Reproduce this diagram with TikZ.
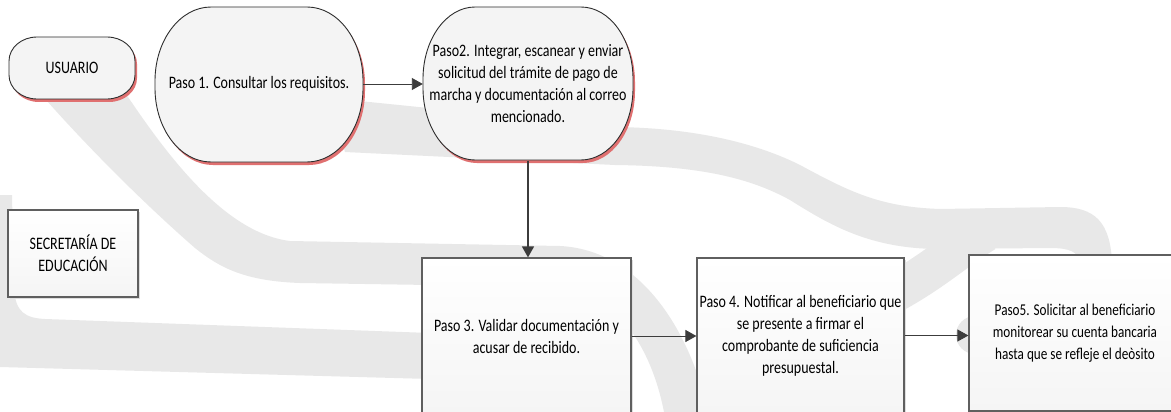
\documentclass[tikz,border=0pt]{standalone}
\usepackage{fontspec}
\setmainfont{Carlito}[FakeStretch=0.8]
\usetikzlibrary{arrows.meta,calc}
\definecolor{wm}{RGB}{232,232,232}
\definecolor{shapefill}{RGB}{244,244,244}
\definecolor{redshadow}{RGB}{224,112,112}
\definecolor{edgecol}{RGB}{45,45,45}
\definecolor{boxedge}{RGB}{95,95,95}
\definecolor{arrowgray}{RGB}{130,130,130}
\definecolor{arrowdark}{RGB}{60,60,60}
% #1 options, #2 x1, #3 y1, #4 x2, #5 y2, #6 rx, #7 ry
\newcommand\ellshape[7]{%
  \path[#1] (#2+#6,#3) -- (#4-#6,#3)
    .. controls (#4-0.4477*#6,#3) and (#4,#3+0.4477*#7) .. (#4,#3+#7)
    -- (#4,#5-#7)
    .. controls (#4,#5-0.4477*#7) and (#4-0.4477*#6,#5) .. (#4-#6,#5)
    -- (#2+#6,#5)
    .. controls (#2+0.4477*#6,#5) and (#2,#5-0.4477*#7) .. (#2,#5-#7)
    -- (#2,#3+#7)
    .. controls (#2,#3+0.4477*#7) and (#2+0.4477*#6,#3) .. (#2+#6,#3) -- cycle;}
\begin{document}
\begin{tikzpicture}[x=1pt,y=-1pt,
  txt/.style={font=\fontsize{17.5}{22}\selectfont, align=center, inner sep=0pt, text=black},
  stepbox/.style={draw=boxedge, line width=1.2, top color=white, bottom color={rgb,255:red,245;green,245;blue,245}, inner sep=0pt, txt},
  flow/.style={draw=arrowgray, line width=0.9, -{Triangle[length=11pt,width=12pt]}, arrowdark},
  flowdark/.style={draw=arrowdark, line width=1.4, -{Triangle[length=11pt,width=12pt]}},
  pillshadow/.style={fill=redshadow, shift={(2,3)}},
  pillbody/.style={fill=shapefill, draw=edgecol, line width=0.9},
  boxshadow/.style={fill={rgb,255:red,222;green,222;blue,222}}
]
\useasboundingbox (0,0) rectangle (1171,412);
\clip (0,0) rectangle (1171,412);
\fill[white] (0,0) rectangle (1171,412);

% ---------- watermark ----------
% diagonal band sweeping into horizontal and curving down
\fill[wm] (20,70) -- (110,70) .. controls (150,130) and (215,232) .. (290,241)
  -- (560,246) .. controls (640,250) and (690,330) .. (708,412)
  -- (664,412) .. controls (650,340) and (610,290) .. (560,287)
  -- (300,283) .. controls (245,281) and (220,268) .. (195,248)
  .. controls (140,200) and (75,135) .. (20,70) -- cycle;
% left vertical band and lower band
\fill[wm] (0,195) -- (12,195) -- (14,290) .. controls (16,312) and (25,318) .. (45,319)
  -- (430,333) -- (430,379) -- (0,367) -- cycle;
% top band
\fill[wm] (330,98) -- (615,127) .. controls (700,128) and (760,145) .. (800,165)
  .. controls (850,192) and (880,207) .. (940,209) -- (1060,207)
  .. controls (1095,207) and (1110,222) .. (1112,262)
  -- (1080,262) .. controls (1078,252) and (1070,248) .. (1050,248)
  -- (940,249) .. controls (870,249) and (830,225) .. (790,200)
  .. controls (750,178) and (700,166) .. (615,165)
  -- (345,152) -- cycle;
% branch curving down-left behind step 4, and a rounded end beside step 5
\draw[wm, line width=40] (985,232) .. controls (955,250) and (930,275) .. (880,300);
\fill[wm] (975,335) circle[radius=19];

% ---------- actors ----------
\ellshape{pillshadow}{9}{37}{135}{99}{28}{24}
\ellshape{pillbody}{9}{37}{135}{99}{28}{24}
\node[txt, minimum width=126, minimum height=62] (usr) at (72,68) {USUARIO};

\fill[boxshadow] (10,212) rectangle (140,299);
\node[stepbox, minimum width=130, minimum height=87] (sec) at (73,253.5) {SECRETARÍA DE\\EDUCACIÓN};

% ---------- steps ----------
\ellshape{pillshadow}{155}{7}{363}{162}{56}{74}
\ellshape{pillbody}{155}{7}{363}{162}{56}{74}
\node[txt, minimum width=208, minimum height=155] (p1) at (259,84) {Paso 1. Consultar los requisitos.};

\ellshape{pillshadow}{423}{7}{633}{160}{52}{72}
\ellshape{pillbody}{423}{7}{633}{160}{52}{72}
\node[txt, minimum width=210, minimum height=153] (p2) at (528,84) {Paso2. Integrar, escanear y enviar\\solicitud del trámite de pago de\\marcha y documentación al correo\\mencionado.};

\fill[boxshadow] (424,260) rectangle (633,420);
\node[stepbox, minimum width=209, minimum height=156] (p3) at (526.5,336) {Paso 3. Validar documentación y\\acusar de recibido.};

\fill[boxshadow] (699,260) rectangle (906,420);
\node[stepbox, minimum width=207, minimum height=155] (p4) at (800.5,335.5) {Paso 4. Notificar al beneficiario que\\se presente a firmar el\\comprobante de suficiencia\\presupuestal.};

\node[stepbox, minimum width=220, minimum height=156, font=\fontsize{16.5}{22}\selectfont] (p5) at (1079,333) {\hspace*{-8pt}Paso5. Solicitar al beneficiario\\\hspace*{-8pt}monitorear su cuenta bancaria\\\hspace*{-8pt}hasta que se refleje el deòsito};

% ---------- connectors ----------
\draw[flow] (p1.east) -- (p1.east -| p2.west);
\draw[flowdark] (p2.south) -- (p2.south |- p3.north);
\draw[flow] (p3.east) -- (p3.east -| p4.west);
\draw[flow] (p4.east) -- (p4.east -| p5.west);
\end{tikzpicture}
\end{document}
